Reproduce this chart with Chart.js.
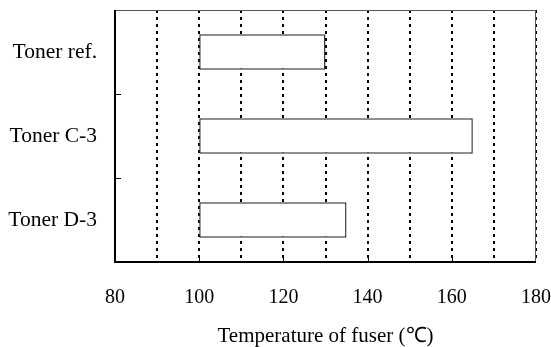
<!DOCTYPE html>
<html>
<head>
<meta charset="utf-8">
<script src="https://cdn.jsdelivr.net/npm/chart.js@4"></script>
<style>
  html, body { margin: 0; padding: 0; background: #fff; }
  #wrap { width: 551px; height: 347px; }
</style>
</head>
<body>
<div id="wrap"><canvas id="chart"></canvas></div>
<script>
// toners and their fixing temperature windows (lower, upper)
const toners = ['Toner ref.', 'Toner C-3', 'Toner D-3'];
const lowTemp = [100, 100, 100];
const highTemp = [130, 165, 135];
const xMin = 80;
const xMax = 180;
const xTitle = 'Temperature of fuser (\u2103)';

const serif = '"Liberation Serif", "Times New Roman", serif';

// small inward tick marks on the left and bottom axes, plus the frame
const innerTicks = {
  id: 'innerTicks',
  afterDraw(chart) {
    const { ctx, chartArea: a, scales: { x, y } } = chart;
    ctx.save();
    ctx.strokeStyle = '#000';
    ctx.lineWidth = 1;
    ctx.beginPath();
    for (let v = xMin + 20; v < xMax; v += 20) {
      const px = Math.round(x.getPixelForValue(v)) + 0.5;
      ctx.moveTo(px, a.bottom);
      ctx.lineTo(px, a.bottom - 6);
    }
    for (let i = 0; i < toners.length - 1; i++) {
      const py = Math.round((y.getPixelForValue(i) + y.getPixelForValue(i + 1)) / 2) + 0.5;
      ctx.moveTo(a.left, py);
      ctx.lineTo(a.left + 6, py);
    }
    ctx.stroke();
    ctx.lineWidth = 1;
    ctx.strokeStyle = '#555';
    ctx.beginPath();
    ctx.moveTo(a.left, a.top + 0.5);
    ctx.lineTo(a.right, a.top + 0.5);
    ctx.moveTo(a.right - 0.5, a.top);
    ctx.lineTo(a.right - 0.5, a.bottom);
    ctx.stroke();
    ctx.lineWidth = 2;
    ctx.strokeStyle = '#000';
    ctx.beginPath();
    ctx.moveTo(a.left, a.top);
    ctx.lineTo(a.left, a.bottom);
    ctx.lineTo(a.right, a.bottom);
    ctx.stroke();
    ctx.restore();
  }
};

new Chart(document.getElementById('chart'), {
  type: 'bar',
  data: {
    labels: toners,
    datasets: [{
      data: toners.map((_, i) => [lowTemp[i], highTemp[i]]),
      backgroundColor: '#fff',
      borderColor: '#3a3a3a',
      borderWidth: 1.5,
      borderSkipped: false,
      barPercentage: 0.42,
      categoryPercentage: 1
    }]
  },
  options: {
    indexAxis: 'y',
    responsive: true,
    maintainAspectRatio: false,
    animation: false,
    layout: { padding: { left: 0, right: 15, top: 10, bottom: 0 } },
    plugins: {
      legend: { display: false },
      tooltip: { enabled: false }
    },
    scales: {
      x: {
        min: xMin,
        max: xMax,
        afterFit: s => { s.height = 85; s.paddingLeft = 0; s.paddingRight = 0; },
        border: { display: false, dash: [3, 4] },
        grid: {
          drawTicks: false,
          color: c => (c.tick.value > xMin ? '#000' : 'rgba(0,0,0,0)'),
          lineWidth: 2
        },
        ticks: {
          stepSize: 10,
          autoSkip: false,
          maxRotation: 0,
          padding: 24,
          color: '#000',
          font: { family: serif, size: 20 },
          callback: v => (v % 20 === 0 ? v : '')
        },
        title: {
          display: true,
          text: xTitle,
          color: '#000',
          font: { family: serif, size: 21, lineHeight: 1 },
          padding: { top: 12, bottom: 0 }
        }
      },
      y: {
        afterFit: s => { s.width = 115; s.paddingTop = 0; s.paddingBottom = 0; },
        border: { display: false },
        grid: { display: false, drawTicks: false },
        ticks: {
          padding: 18,
          color: '#000',
          font: { family: serif, size: 21.5 }
        }
      }
    }
  },
  plugins: [innerTicks]
});
</script>
</body>
</html>
